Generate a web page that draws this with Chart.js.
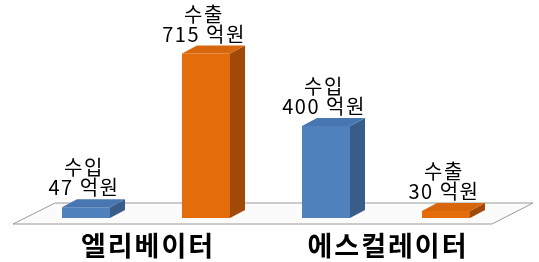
<!DOCTYPE html>
<html>
<head>
<meta charset="utf-8">
<script src="https://cdn.jsdelivr.net/npm/chart.js@4"></script>
<style>
  html, body { margin: 0; padding: 0; background: #fff; }
  #wrap { width: 539px; height: 262px; }
</style>
</head>
<body>
<div id="wrap"><canvas id="chartCanvas" width="539" height="262"></canvas></div>
<script>
// --- Data ---
const categories = ["엘리베이터", "에스컬레이터"];
const seriesNames = ["수입", "수출"];
const importValues = [47, 400];
const exportValues = [715, 30];
const unit = "억원";

const frontColors = ["#4f81bd", "#e46c0a"];
const sideColors = ["#385d8a", "#a14a07"];
const topColors = ["#4776b0", "#d8660c"];

const DX = 15, DY = 8;

// floor plane under the bars
const floorPlugin = {
  id: "floor",
  beforeDatasetsDraw(chart) {
    const { ctx, chartArea } = chart;
    const base = chart.scales.y.getPixelForValue(0);
    const front = base + 6, back = base - 15;
    ctx.save();
    ctx.beginPath();
    ctx.moveTo(chartArea.left - 13, front);
    ctx.lineTo(chartArea.left + 29, back);
    ctx.lineTo(chartArea.right + 27, back);
    ctx.lineTo(chartArea.right - 14, front);
    ctx.closePath();
    ctx.fillStyle = "#fbfbfb";
    ctx.fill();
    ctx.strokeStyle = "#9a9a9a";
    ctx.lineWidth = 1;
    ctx.stroke();
    ctx.restore();
  }
};

// side + top faces, value labels, category labels
const boxPlugin = {
  id: "box3d",
  afterDatasetsDraw(chart) {
    const { ctx } = chart;
    ctx.save();
    chart.data.datasets.forEach((ds, di) => {
      const meta = chart.getDatasetMeta(di);
      meta.data.forEach((bar, i) => {
        const left = bar.x - bar.width / 2;
        const right = bar.x + bar.width / 2;
        const top = bar.y, base = bar.base;

        ctx.fillStyle = sideColors[di];
        ctx.beginPath();
        ctx.moveTo(right, top);
        ctx.lineTo(right + DX, top - DY);
        ctx.lineTo(right + DX, base - DY);
        ctx.lineTo(right, base);
        ctx.closePath();
        ctx.fill();

        ctx.fillStyle = topColors[di];
        ctx.beginPath();
        ctx.moveTo(left, top);
        ctx.lineTo(left + DX, top - DY);
        ctx.lineTo(right + DX, top - DY);
        ctx.lineTo(right, top);
        ctx.closePath();
        ctx.fill();

        ctx.fillStyle = "#000";
        ctx.textAlign = "center";
        ctx.textBaseline = "alphabetic";
        ctx.font = '20px "Noto Sans CJK KR", "Liberation Sans", sans-serif';
        ctx.letterSpacing = "1.5px";
        const lx = bar.x - 2;
        ctx.fillText(ds.data[i] + " " + unit, lx, top - 12);
        ctx.fillText(ds.label, lx, top - 32);
      });
    });

    ctx.font = 'bold 27px "Noto Sans CJK KR", sans-serif';
    ctx.letterSpacing = "2px";
    ctx.textAlign = "center";
    ctx.textBaseline = "middle";
    ctx.fillStyle = "#000";
    categories.forEach((c, i) => {
      const x = chart.scales.x.getPixelForValue(i);
      ctx.fillText(c, x + 2, 246);
    });
    ctx.restore();
  }
};

new Chart(document.getElementById("chartCanvas"), {
  type: "bar",
  data: {
    labels: categories,
    datasets: [
      { label: seriesNames[0], data: importValues, backgroundColor: frontColors[0] },
      { label: seriesNames[1], data: exportValues, backgroundColor: frontColors[1] }
    ]
  },
  options: {
    responsive: false,
    animation: false,
    layout: { padding: { left: 26, right: 33, top: 34, bottom: 44 } },
    datasets: { bar: { categoryPercentage: 1.0, barPercentage: 0.4 } },
    scales: {
      x: { display: false },
      y: { display: false, min: 0, max: 800 }
    },
    plugins: {
      legend: { display: false },
      tooltip: { enabled: false }
    }
  },
  plugins: [floorPlugin, boxPlugin]
});
</script>
</body>
</html>
